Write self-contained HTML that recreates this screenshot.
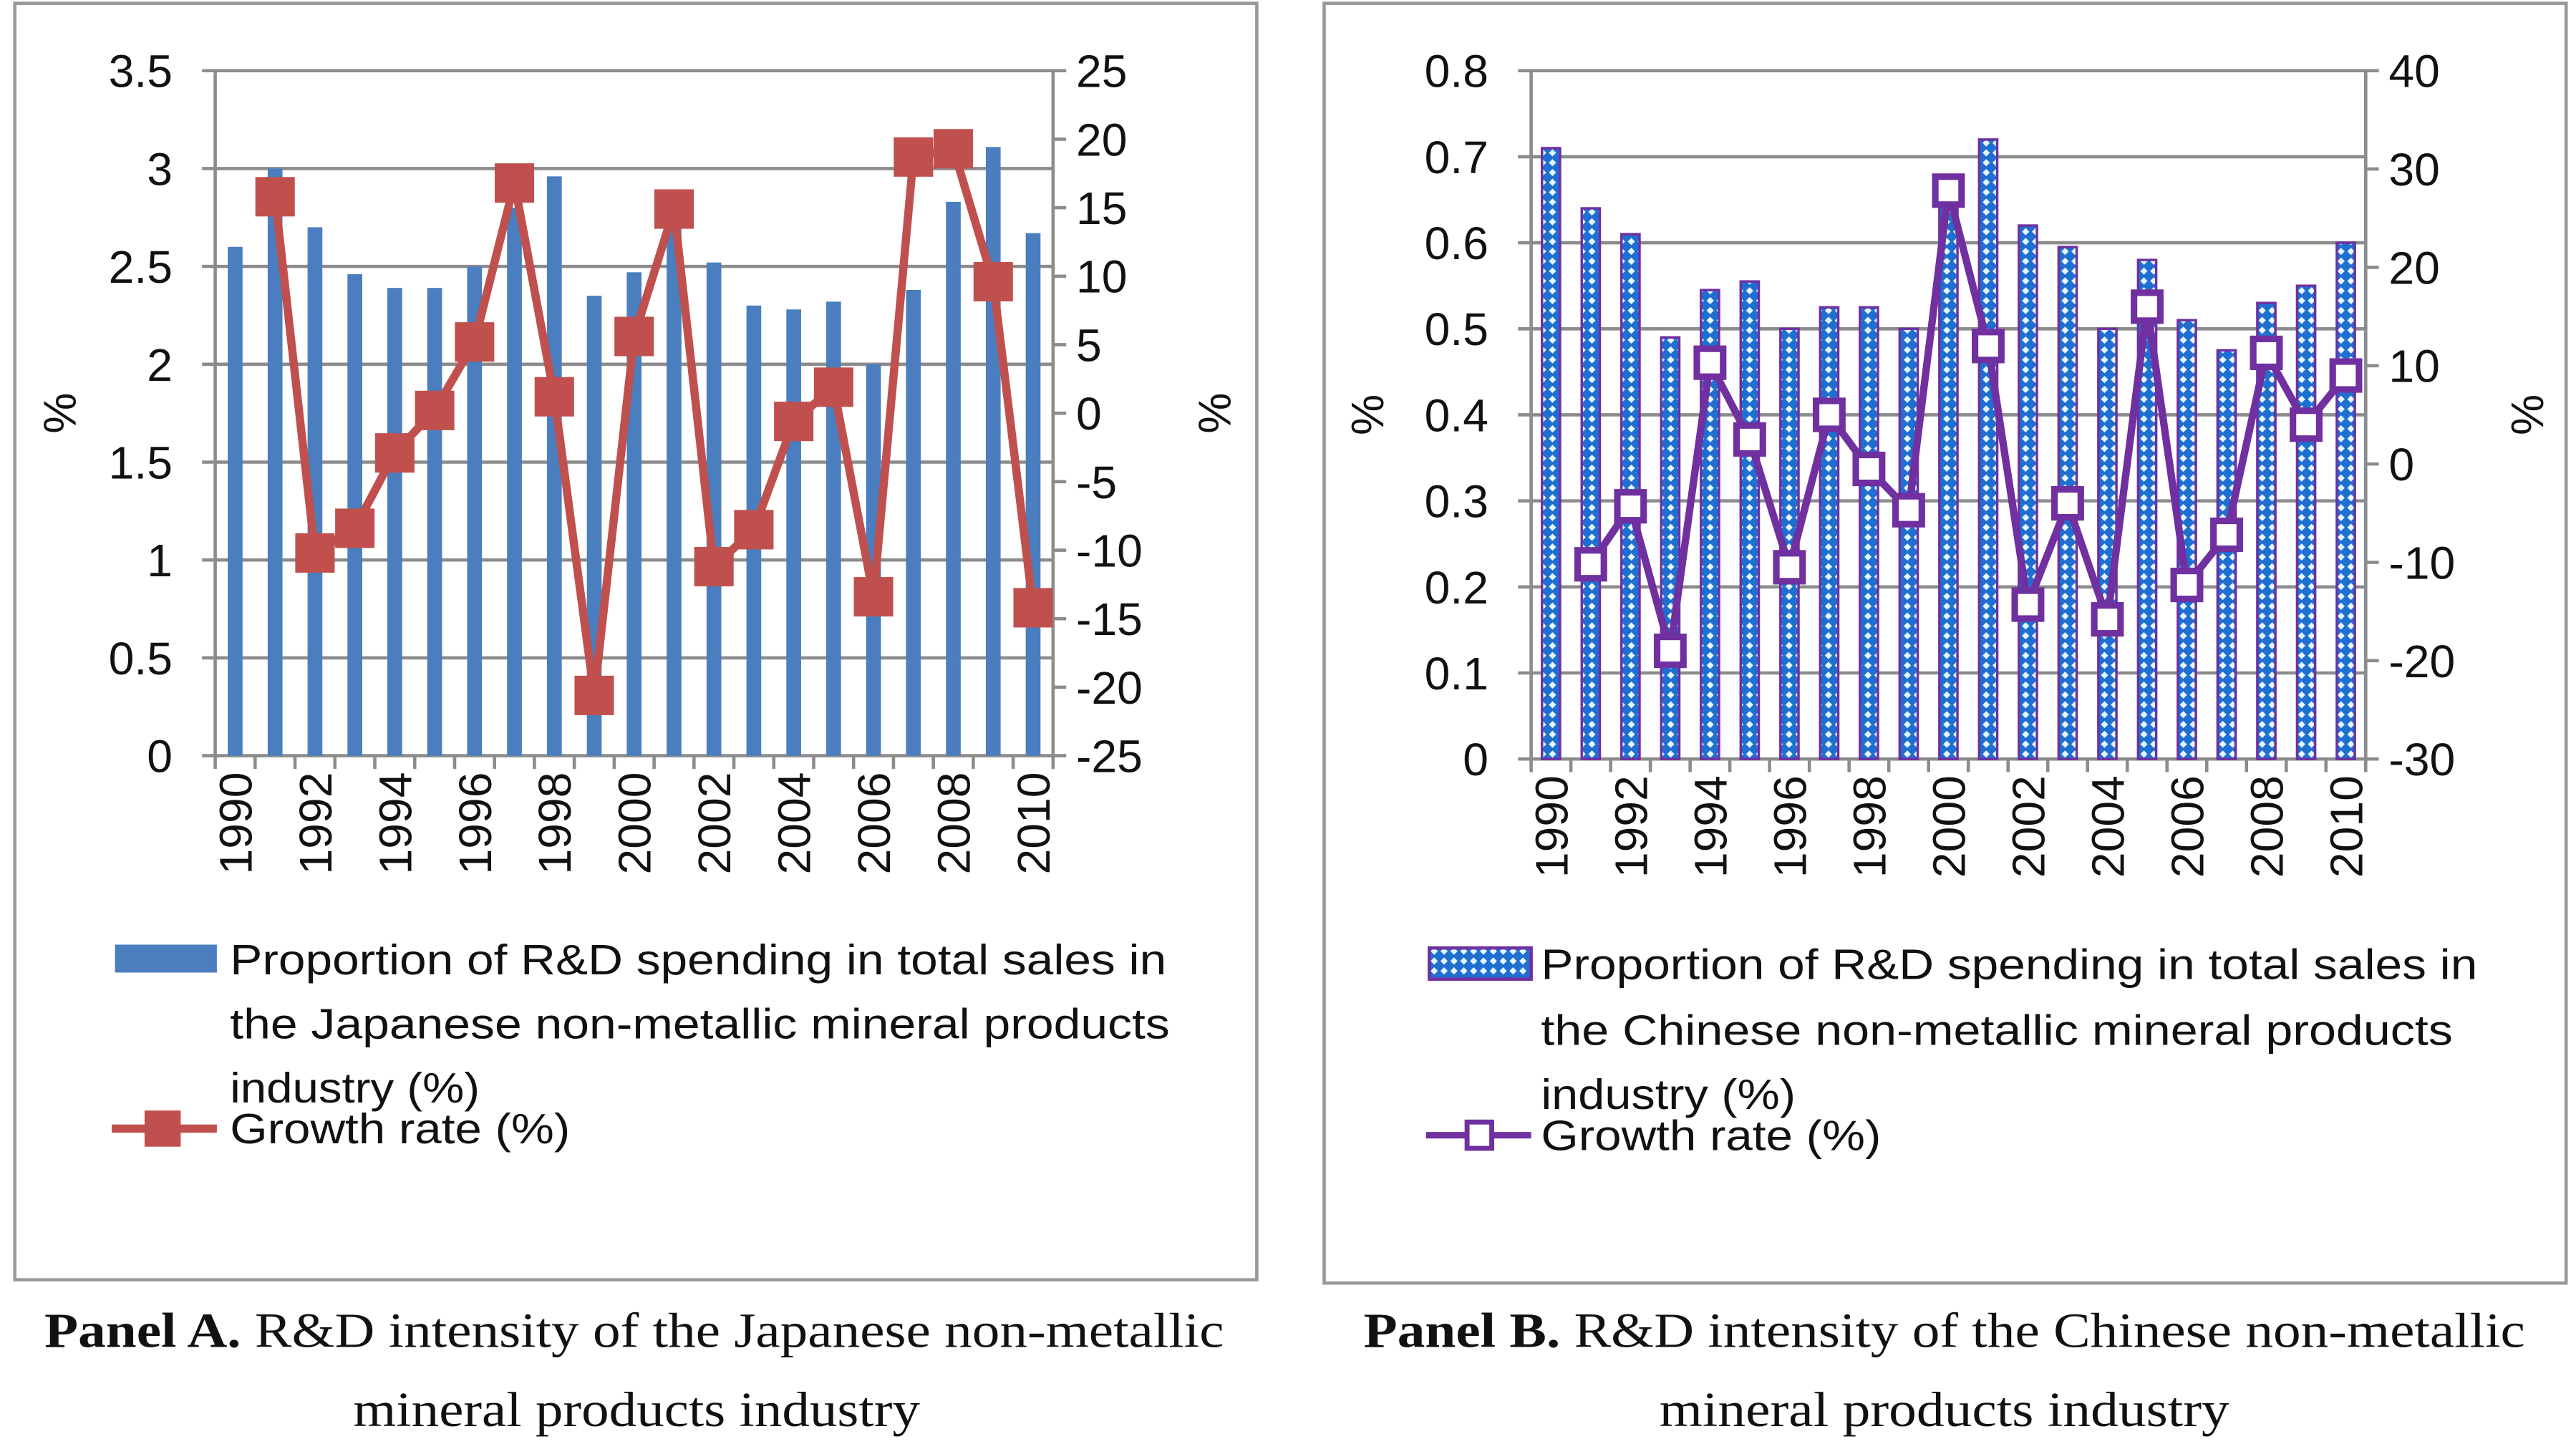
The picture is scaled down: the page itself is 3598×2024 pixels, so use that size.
<!DOCTYPE html>
<html><head><meta charset="utf-8"><style>
html,body{margin:0;padding:0;background:#fff;}
svg{display:block;}
.t{font-family:"Liberation Sans",sans-serif;fill:#111;}
.s{font-family:"Liberation Serif",serif;fill:#111;}
</style></head><body>
<svg id="svg" width="3598" height="2024" viewBox="0 0 1568 882" xmlns="http://www.w3.org/2000/svg">
<defs>
<pattern id="dots" width="6" height="6" patternUnits="userSpaceOnUse">
<rect width="6" height="6" fill="#1f6fd1"/>
<path d="M3 0.8 L5.2 3 L3 5.2 L0.8 3Z" fill="#e8f8ff"/>
</pattern>
</defs>
<rect x="9" y="2" width="756" height="777" fill="none" stroke="#999" stroke-width="2"/>
<rect x="806" y="2" width="756" height="779" fill="none" stroke="#999" stroke-width="2"/>
<g id="A"></g>
<g id="B"></g>
<g>
<rect x="70" y="575" width="62" height="17" fill="#4a7ebf"/>
<text class="t" x="140" y="593" font-size="26" textLength="570" lengthAdjust="spacingAndGlyphs">Proportion of R&amp;D spending in total sales in</text>
<text class="t" x="140" y="632" font-size="26" textLength="572" lengthAdjust="spacingAndGlyphs">the Japanese non-metallic mineral products</text>
<text class="t" x="140" y="671" font-size="26" textLength="152" lengthAdjust="spacingAndGlyphs">industry (%)</text>
<line x1="68" y1="687" x2="132" y2="687" stroke="#c0504d" stroke-width="5"/>
<rect x="88" y="676" width="22" height="22" fill="#c0504d"/>
<text class="t" x="140" y="696" font-size="26" textLength="207" lengthAdjust="spacingAndGlyphs">Growth rate (%)</text>
</g>
<g>
<rect x="870" y="577" width="62" height="19" fill="url(#dots)" stroke="#7030a0" stroke-width="2"/>
<text class="t" x="938" y="596" font-size="26" textLength="570" lengthAdjust="spacingAndGlyphs">Proportion of R&amp;D spending in total sales in</text>
<text class="t" x="938" y="636" font-size="26" textLength="555" lengthAdjust="spacingAndGlyphs">the Chinese non-metallic mineral products</text>
<text class="t" x="938" y="675" font-size="26" textLength="155" lengthAdjust="spacingAndGlyphs">industry (%)</text>
<line x1="868" y1="691" x2="932" y2="691" stroke="#7030a0" stroke-width="4"/>
<rect x="893" y="683" width="15" height="16" fill="#fff" stroke="#7030a0" stroke-width="3"/>
<text class="t" x="938" y="700" font-size="26" textLength="207" lengthAdjust="spacingAndGlyphs">Growth rate (%)</text>
</g>
<text class="s" x="27" y="820" font-size="30" textLength="718" lengthAdjust="spacingAndGlyphs"><tspan font-weight="bold">Panel A.</tspan> R&amp;D intensity of the Japanese non-metallic</text>
<text class="s" x="215" y="868" font-size="30" textLength="345" lengthAdjust="spacingAndGlyphs">mineral products industry</text>
<text class="s" x="830" y="820" font-size="30" textLength="707" lengthAdjust="spacingAndGlyphs"><tspan font-weight="bold">Panel B.</tspan> R&amp;D intensity of the Chinese non-metallic</text>
<text class="s" x="1010" y="868" font-size="30" textLength="347" lengthAdjust="spacingAndGlyphs">mineral products industry</text>
</svg>
<script>
const years = [1990,1991,1992,1993,1994,1995,1996,1997,1998,1999,2000,2001,2002,2003,2004,2005,2006,2007,2008,2009,2010];
const japanShare = [2.6,3.0,2.7,2.46,2.39,2.39,2.5,2.8,2.96,2.35,2.47,2.7,2.52,2.3,2.28,2.32,2.0,2.38,2.83,3.11,2.67];
const japanGrowth = [null,15.8,-10.2,-8.4,-2.9,0.2,5.2,16.8,1.2,-20.6,5.6,14.9,-11.2,-8.5,-0.6,1.9,-13.4,18.7,19.3,9.6,-14.2];
const chinaShare = [0.71,0.64,0.61,0.49,0.545,0.555,0.50,0.525,0.525,0.50,0.67,0.72,0.62,0.595,0.50,0.58,0.51,0.475,0.53,0.55,0.60];
const chinaGrowth = [null,-10.2,-4.3,-19,10.3,2.5,-10.5,5,-0.5,-4.7,27.8,12,-14.3,-4,-15.8,16,-12.3,-7.2,11.3,4,9];
const japanLeftTicks = ["0","0.5","1","1.5","2","2.5","3","3.5"];
const japanRightTicks = ["-25","-20","-15","-10","-5","0","5","10","15","20","25"];
const chinaLeftTicks = ["0","0.1","0.2","0.3","0.4","0.5","0.6","0.7","0.8"];
const chinaRightTicks = ["-30","-20","-10","0","10","20","30","40"];

const NS="http://www.w3.org/2000/svg";
function mk(parent,tag,attrs,text){const e=document.createElementNS(NS,tag);for(const k in attrs)e.setAttribute(k,attrs[k]);if(text!==undefined)e.textContent=text;parent.appendChild(e);return e;}

function drawPanel(g,cfg){
  const {L,R,T,B,lmin,lmax,rmin,rmax,share,growth,lticks,rticks,kind}=cfg;
  const n=years.length, bw=(R-L)/n;
  const x=i=>L+bw*(i+0.5);
  const yl=v=>B-(v-lmin)/(lmax-lmin)*(B-T);
  const yr=v=>B-(v-rmin)/(rmax-rmin)*(B-T);
  lticks.forEach(t=>{const v=parseFloat(t),y=yl(v);
    const gl=mk(g,'line',{x1:L-8,x2:R,y1:y,y2:y,stroke:'#8c8c8c','stroke-width':2});
    
    
    const tx=mk(g,'text',{x:L-26,y:y+10,'font-size':28,'text-anchor':'end',class:'t'},t);
    
    
  });
  rticks.forEach(t=>{const v=parseFloat(t),y=yr(v);
    const tl=mk(g,'line',{x1:R,x2:R+8,y1:y,y2:y,stroke:'#8c8c8c','stroke-width':2});
    
    
    const tx=mk(g,'text',{x:R+14,y:y+10,'font-size':28,class:'t'},t);
    
    
  });
  const ax=mk(g,'path',{d:`M${L} ${T}V${B}M${R} ${T}V${B}`,stroke:'#8c8c8c','stroke-width':2,fill:'none'});
  
  
  for(let i=0;i<=n;i++){const tk=mk(g,'line',{x1:L+bw*i,x2:L+bw*i,y1:B,y2:B+8,stroke:'#8c8c8c','stroke-width':2});
    
    }
  share.forEach((v,i)=>{
    let r;
    if(kind==='a') r=mk(g,'rect',{x:x(i)-4.5,y:yl(v),width:9,height:B-yl(v),fill:'#4a7ebf'});
    else r=mk(g,'rect',{x:x(i)-5.5,y:yl(v),width:11,height:B-yl(v),fill:'url(#dots)',stroke:'#7030a0','stroke-width':1.5});
    
    
  });
  const col=kind==='a'?'#c0504d':'#7030a0';
  let d='';growth.forEach((v,i)=>{if(v===null)return;d+=(d?'L':'M')+x(i)+' '+yr(v);});
  const ln=mk(g,'path',{d:d,stroke:col,'stroke-width':kind==='a'?5:4.5,fill:'none','stroke-linejoin':'round'});
  
  
  growth.forEach((v,i)=>{if(v===null)return;
    let m;
    if(kind==='a') m=mk(g,'rect',{x:x(i)-12,y:yr(v)-12,width:24,height:24,fill:col});
    else m=mk(g,'rect',{x:x(i)-8,y:yr(v)-8.5,width:16,height:17,fill:'#fff',stroke:col,'stroke-width':4});
    
    
  });
  years.forEach((yv,i)=>{if(i%2)return;
    const tx=mk(g,'text',{x:0,y:0,'font-size':28,'text-anchor':'end',class:'t',transform:`translate(${x(i)+10},${B+10}) rotate(-90)`},String(yv));
    
    
  });
  const a1=mk(g,'text',{x:0,y:0,'font-size':28,'text-anchor':'middle',class:'t',transform:`translate(${cfg.lpx},${(T+B)/2}) rotate(-90)`},'%');
  
  
  const a2=mk(g,'text',{x:0,y:0,'font-size':28,'text-anchor':'middle',class:'t',transform:`translate(${cfg.rpx},${(T+B)/2}) rotate(-90)`},'%');
  
  
}
drawPanel(document.getElementById('A'),{L:131,R:641,T:43,B:460,lmin:0,lmax:3.5,rmin:-25,rmax:25,share:japanShare,growth:japanGrowth,lticks:japanLeftTicks,rticks:japanRightTicks,kind:'a',lpx:46,rpx:749});
drawPanel(document.getElementById('B'),{L:932,R:1440,T:43,B:462,lmin:0,lmax:0.8,rmin:-30,rmax:40,share:chinaShare,growth:chinaGrowth,lticks:chinaLeftTicks,rticks:chinaRightTicks,kind:'b',lpx:842,rpx:1548});
</script>
</body></html>
